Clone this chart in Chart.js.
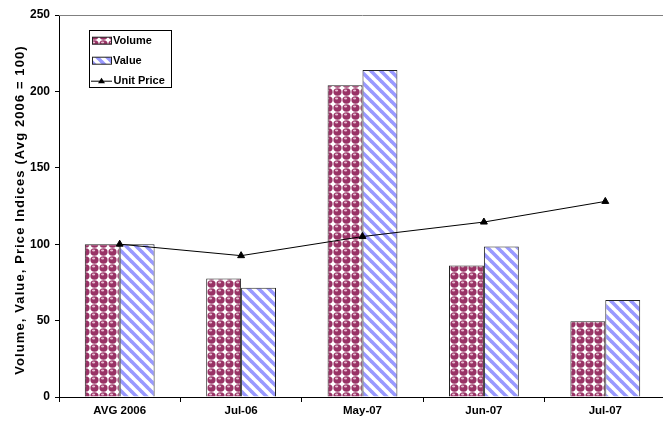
<!DOCTYPE html>
<html>
<head>
<meta charset="utf-8">
<script src="https://cdn.jsdelivr.net/npm/chart.js@4.4.1/dist/chart.umd.min.js"></script>
<style>
  html, body { margin: 0; padding: 0; background: #fff; overflow: hidden; width: 663px; height: 424px; }
  #wrap { width: 671px; height: 424px; position: relative; }
  canvas { display: block; }
</style>
</head>
<body>
<div id="wrap"><canvas id="chart" width="671" height="424" style="width:671px;height:424px"></canvas></div>
<script>
// Categories and index series (Avg 2006 = 100)
const categories = ['AVG 2006', 'Jul-06', 'May-07', 'Jun-07', 'Jul-07'];
const volumeIndex = [100, 77.5, 204, 86, 49.5];
const valueIndex = [100, 71.5, 214, 98.5, 63.5];
const unitPriceIndex = [100, 92.5, 105, 114.5, 128];
const yTicks = [0, 50, 100, 150, 200, 250];
const seriesNames = ['Volume', 'Value', 'Unit Price'];
const axisTitle = 'Volume, Value, Price Indices (Avg 2006 = 100)';

const FONT = "'Liberation Sans', Arial, sans-serif";
const canvas = document.getElementById('chart');
const ctx = canvas.getContext('2d');

// Maroon "spheres" fill
function spherePattern() {
  const c = document.createElement('canvas');
  c.width = 9; c.height = 8;
  const g = c.getContext('2d');
  g.fillStyle = '#ffffff';
  g.fillRect(0, 0, 9, 8);
  g.fillStyle = '#993366';
  g.beginPath(); g.ellipse(4.5, 4, 4.1, 3.7, 0, 0, Math.PI * 2); g.fill();
  g.fillStyle = '#e6bfd2';
  g.beginPath(); g.ellipse(3.6, 2.6, 1.6, 1.0, 0, 0, Math.PI * 2); g.fill();
  return ctx.createPattern(c, 'repeat');
}

// Light blue wide downward-diagonal stripes
function stripePattern() {
  const n = 10;
  const c = document.createElement('canvas');
  c.width = n; c.height = n;
  const g = c.getContext('2d');
  g.fillStyle = '#ffffff';
  g.fillRect(0, 0, n, n);
  g.strokeStyle = '#9999ff';
  g.lineWidth = 3.6;
  for (const k of [-n, 0, n]) {
    g.beginPath(); g.moveTo(k - 1, -1); g.lineTo(k + n + 1, n + 1); g.stroke();
  }
  return ctx.createPattern(c, 'repeat');
}

const spheres = spherePattern();
const stripes = stripePattern();

// Thin grey frame line along the top of the plot area
const topLine = {
  id: 'topLine',
  beforeDatasetsDraw(chart) {
    const { left, right, top } = chart.chartArea;
    const g = chart.ctx;
    g.save();
    g.strokeStyle = '#808080';
    g.lineWidth = 1;
    g.beginPath(); g.moveTo(left, top + 0.5); g.lineTo(right, top + 0.5); g.stroke();
    g.restore();
  }
};

// Rotated y-axis title with slightly open letter spacing
const yTitle = {
  id: 'yTitle',
  afterDraw(chart) {
    const { top, bottom } = chart.chartArea;
    const g = chart.ctx;
    g.save();
    g.translate(20.5, (top + bottom) / 2 + 4);
    g.rotate(-Math.PI / 2);
    g.font = 'bold 13px ' + FONT;
    if ('letterSpacing' in g) g.letterSpacing = '1.1px';
    g.textAlign = 'center';
    g.textBaseline = 'middle';
    g.fillStyle = '#000';
    g.fillText(axisTitle, 0, 0);
    g.restore();
  }
};

// Boxed legend inside the plot area
const legendBox = {
  id: 'legendBox',
  afterDraw(chart) {
    const g = chart.ctx;
    const ds = chart.data.datasets;
    g.save();
    g.fillStyle = '#fff';
    g.fillRect(89, 30, 82, 57);
    g.strokeStyle = '#000';
    g.lineWidth = 1;
    g.strokeRect(89.5, 30.5, 82, 57);
    g.font = 'bold 11px ' + FONT;
    g.textBaseline = 'middle';
    g.fillStyle = '#000';

    const rows = [40.7, 60.7, 80.7];
    [0, 1].forEach(i => {
      const y = rows[i];
      g.fillStyle = ds[i].backgroundColor;
      g.fillRect(92, y - 3.5, 20, 7);
      g.strokeStyle = ds[i].borderColor;
      g.strokeRect(92.5, y - 3.5, 19, 7);
      g.fillStyle = '#000';
      g.fillText(ds[i].label, 113, y + 0.5);
    });
    const y = rows[2];
    g.strokeStyle = '#000';
    g.beginPath(); g.moveTo(91, y + 0.5); g.lineTo(112, y + 0.5); g.stroke();
    g.beginPath();
    g.moveTo(101.5, y - 3); g.lineTo(105, y + 2.5); g.lineTo(98, y + 2.5); g.closePath();
    g.fillStyle = '#000'; g.fill();
    g.fillText(ds[2].label, 113.5, y + 0.5);
    g.restore();
  }
};

new Chart(ctx, {
  type: 'bar',
  data: {
    labels: categories,
    datasets: [
      { label: seriesNames[0], data: volumeIndex, backgroundColor: spheres,
        borderColor: '#222', borderWidth: 1, order: 1 },
      { label: seriesNames[1], data: valueIndex, backgroundColor: stripes,
        borderColor: '#222', borderWidth: 1, order: 1 },
      { type: 'line', label: seriesNames[2], data: unitPriceIndex,
        borderColor: '#000', borderWidth: 1, backgroundColor: '#000',
        pointStyle: 'triangle', pointRadius: 4, pointBorderWidth: 1,
        pointBorderColor: '#000', pointBackgroundColor: '#000',
        tension: 0, order: 0 }
    ]
  },
  options: {
    responsive: false,
    animation: false,
    devicePixelRatio: 1,
    layout: { padding: { left: 0, right: 0, top: 15, bottom: 0 } },
    datasets: { bar: { categoryPercentage: 0.575, barPercentage: 1 } },
    plugins: { legend: { display: false }, tooltip: { enabled: false } },
    scales: {
      x: {
        offset: true,
        grid: { display: true, offset: true, drawOnChartArea: false, tickLength: 5, color: '#000' },
        border: { display: true, color: '#000', width: 1 },
        ticks: { color: '#000', font: { family: FONT, size: 11.5, weight: 'bold' },
                 padding: 2, maxRotation: 0, autoSkip: false },
        afterFit(s) { s.height = 27; }
      },
      y: {
        min: 0, max: 250,
        afterBuildTicks(s) { s.ticks = yTicks.map(v => ({ value: v })); },
        ticks: { color: '#000', font: { family: FONT, size: 12, weight: 'bold' }, padding: 5 },
        grid: { display: true, drawOnChartArea: false, tickLength: 4, color: '#000' },
        border: { display: true, color: '#000', width: 1 },
        title: { display: false },
        afterFit(s) { s.width = 59; }
      }
    }
  },
  plugins: [topLine, legendBox, yTitle]
});
</script>
</body>
</html>
